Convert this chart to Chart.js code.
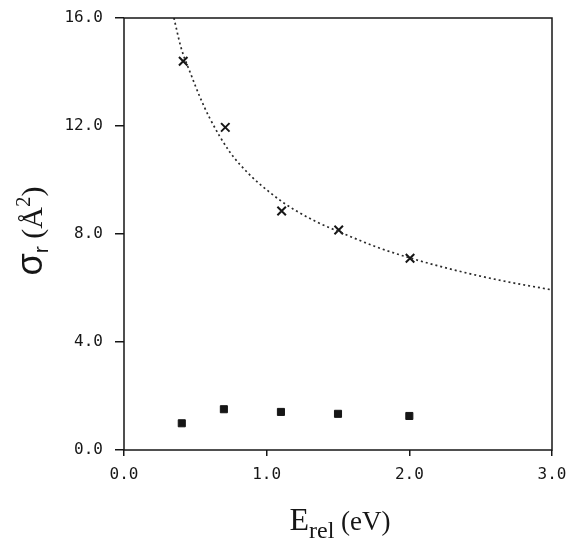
<!DOCTYPE html>
<html>
<head>
<meta charset="utf-8">
<script src="https://cdn.jsdelivr.net/npm/chart.js@4"></script>
<style>
  html, body { margin: 0; padding: 0; background: #fff; }
  canvas { display: block; }
</style>
</head>
<body>
<canvas id="chart" width="570" height="545"></canvas>
<script>
// measured points (crosses) and the second set (filled squares)
const energyCross = [0.415, 0.71, 1.105, 1.505, 2.005];
const sigmaCross = [14.4, 11.95, 8.85, 8.15, 7.1];
const energySquare = [0.405, 0.70, 1.10, 1.50, 2.00];
const sigmaSquare = [0.99, 1.51, 1.41, 1.34, 1.26];
// dotted fit curve
const curveE = [0.35, 0.40, 0.47, 0.53, 0.60, 0.74, 0.88, 1.02, 1.12, 1.21, 1.35, 1.50, 1.77, 2.00, 2.29, 2.64, 3.00];
const curveSigma = [16.0, 14.9, 13.9, 13.1, 12.3, 11.05, 10.2, 9.55, 9.15, 8.85, 8.45, 8.1, 7.52, 7.12, 6.7, 6.28, 5.93];
const xTicks = [0, 1, 2, 3];
const yTicks = [0, 4, 8, 12, 16];

const ink = '#161616';
const toXY = (xs, ys) => xs.map((x, i) => ({ x: x, y: ys[i] }));

// frame around the plot + axis titles with sub/superscripts
const framePlugin = {
    id: 'frame',
    afterDraw(chart) {
        const { ctx, chartArea: a } = chart;
        ctx.save();
        ctx.strokeStyle = ink;
        ctx.lineWidth = 1.5;
        ctx.strokeRect(a.left, a.top, a.right - a.left, a.bottom - a.top);

        ctx.fillStyle = ink;
        ctx.textBaseline = 'alphabetic';

        // x title: E_rel (eV)
        let parts = [['E', '32px "Liberation Serif"', 0], ['rel', '24px "Liberation Serif"', 8], [' (eV)', '27px "Liberation Serif"', 0]];
        let w = 0;
        parts.forEach(p => { ctx.font = p[1]; w += ctx.measureText(p[0]).width; });
        let x = 340 - w / 2;
        parts.forEach(p => { ctx.font = p[1]; ctx.fillText(p[0], x, 530 + p[2]); x += ctx.measureText(p[0]).width; });

        // y title: sigma_r (Å^2)
        ctx.translate(42, 231);
        ctx.rotate(-Math.PI / 2);
        parts = [['σ', '36px "Liberation Sans"', 0], ['r', '21px "Liberation Sans"', 6], [' (Å', '30px "Liberation Serif"', 0], ['2', '21px "Liberation Serif"', -12], [')', '30px "Liberation Serif"', 0]];
        w = 0;
        parts.forEach(p => { ctx.font = p[1]; w += ctx.measureText(p[0]).width; });
        x = -w / 2;
        parts.forEach(p => { ctx.font = p[1]; ctx.fillText(p[0], x, p[2]); x += ctx.measureText(p[0]).width; });
        ctx.restore();
    }
};

const tickFont = { family: '"DejaVu Sans Mono"', size: 16 };

new Chart(document.getElementById('chart').getContext('2d'), {
    type: 'scatter',
    data: {
        datasets: [{
            label: 'fit',
            data: toXY(curveE, curveSigma),
            showLine: true,
            borderColor: '#2a2a2a',
            borderWidth: 1.7,
            borderDash: [2, 3],
            pointRadius: 0,
            cubicInterpolationMode: 'monotone'
        }, {
            label: 'crosses',
            data: toXY(energyCross, sigmaCross),
            pointStyle: 'crossRot',
            pointRadius: 6,
            borderColor: ink,
            borderWidth: 2
        }, {
            label: 'squares',
            data: toXY(energySquare, sigmaSquare),
            pointStyle: 'rect',
            pointRadius: 5,
            backgroundColor: ink,
            borderColor: ink,
            borderWidth: 1
        }]
    },
    options: {
        responsive: false,
        animation: false,
        layout: { padding: { top: 18, right: 18, left: 0, bottom: 0 } },
        plugins: {
            legend: { display: false },
            tooltip: { enabled: false }
        },
        scales: {
            x: {
                type: 'linear',
                min: 0,
                max: 3,
                afterBuildTicks: s => { s.ticks = xTicks.map(v => ({ value: v })); },
                afterFit: s => { s.height = 95; s.paddingLeft = 0; s.paddingRight = 0; },
                border: { display: false },
                grid: { drawOnChartArea: false, drawTicks: true, tickLength: 6, color: ink, lineWidth: 1.5 },
                ticks: { color: ink, font: tickFont, padding: 9, maxRotation: 0, callback: v => v.toFixed(1) }
            },
            y: {
                min: 0,
                max: 16,
                afterBuildTicks: s => { s.ticks = yTicks.map(v => ({ value: v })); },
                afterFit: s => { s.width = 124; s.paddingTop = 0; s.paddingBottom = 0; },
                border: { display: false },
                grid: { drawOnChartArea: false, drawTicks: true, tickLength: 9, color: ink, lineWidth: 1.5 },
                ticks: { color: ink, font: tickFont, padding: 12, callback: v => v.toFixed(1) }
            }
        }
    },
    plugins: [framePlugin]
});
</script>
</body>
</html>
